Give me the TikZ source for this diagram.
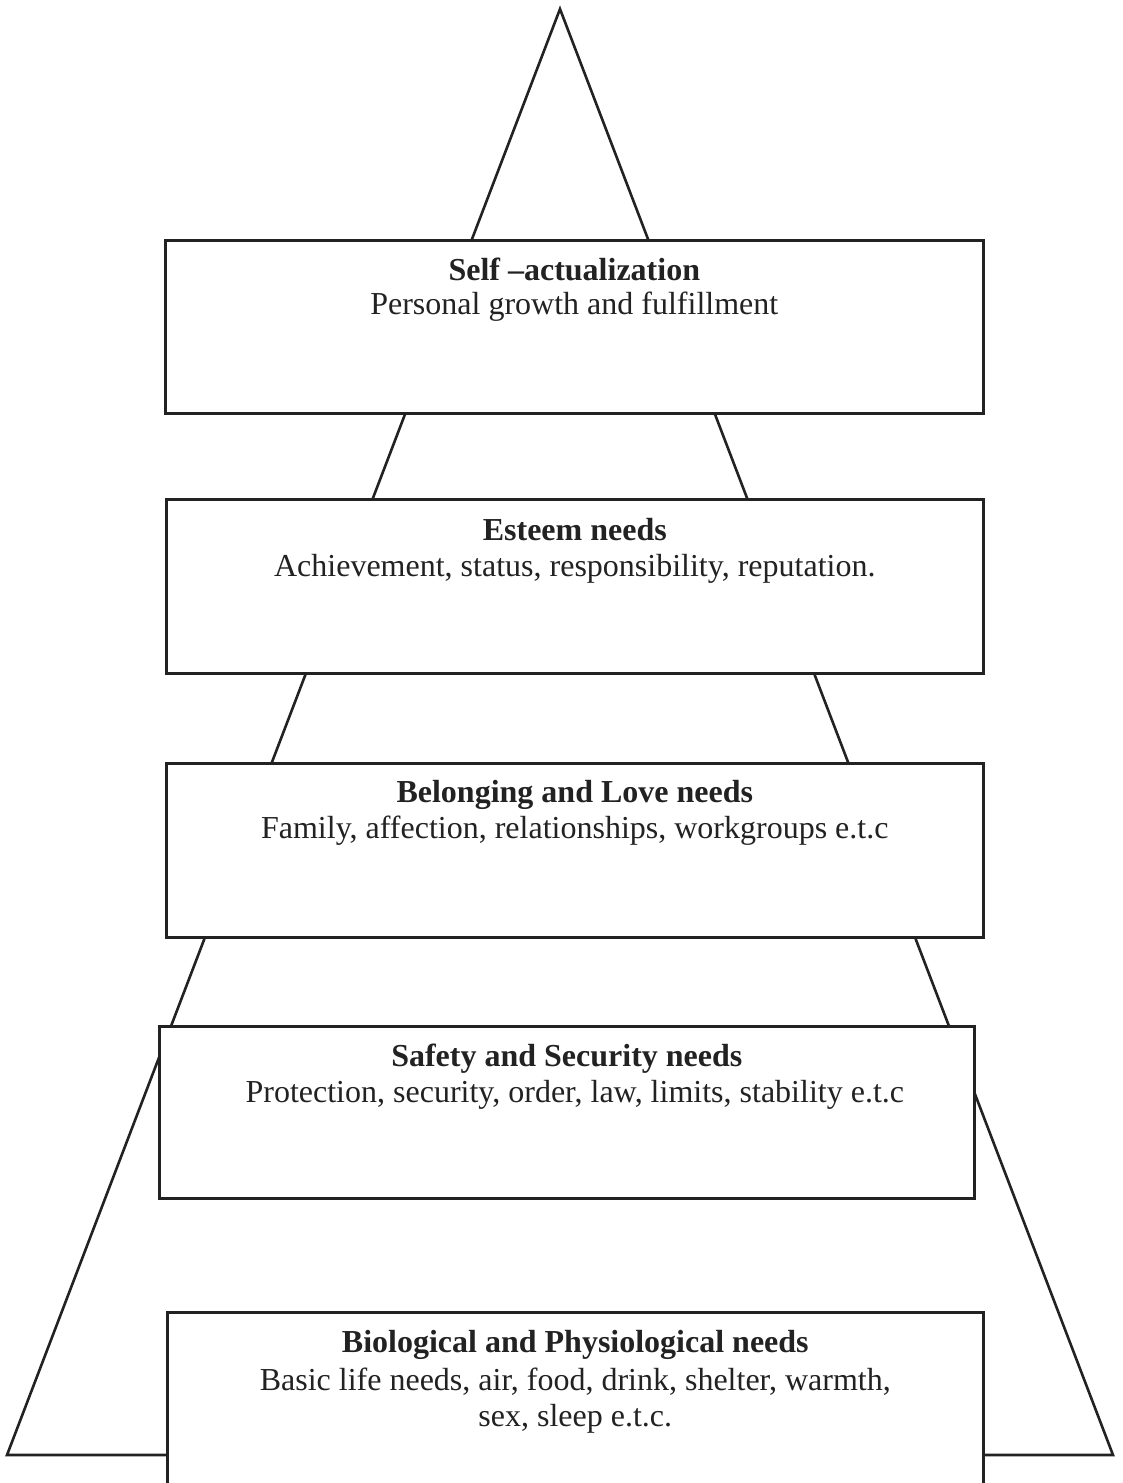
\documentclass[tikz,border=0pt]{standalone}
\usepackage{fontspec}
\setmainfont{Liberation Serif}
\definecolor{ink}{HTML}{222222}
\begin{document}
\begin{tikzpicture}[x=1pt, y=-1pt, line width=2.6pt, color=ink,
  level/.style={draw, fill=white, anchor=north west, inner sep=0pt},
  heading/.style={anchor=base, inner sep=0pt, font=\fontsize{32}{36}\selectfont\bfseries},
  detail/.style={anchor=base, inner sep=0pt, align=center, font=\fontsize{32}{36}\selectfont}]
\clip (0, 0) rectangle (1123, 1483);
\fill[white] (0, 0) rectangle (1123, 1483);
% pyramid outline behind the boxes
\path (560, 9) coordinate (apex);
\path (1113, 1455) coordinate (baseright);
\path (7, 1455) coordinate (baseleft);
\draw[line join=miter] (apex) -- (baseright) -- (baseleft) -- cycle;
% levels, top to bottom
\path (164, 239) node[level, minimum width=818pt, minimum height=173pt] (selfbox) {};
\path ([yshift=-41pt]selfbox.north) node[heading] (selfhead) {Self –actualization};
\path ([yshift=-75pt]selfbox.north) node[detail] (selftext) {Personal growth and fulfillment};
\path (165, 498) node[level, minimum width=817pt, minimum height=174pt] (esteembox) {};
\path ([yshift=-42pt]esteembox.north) node[heading] (esteemhead) {Esteem needs};
\path ([yshift=-78pt]esteembox.north) node[detail] (esteemtext) {Achievement, status, responsibility, reputation.};
\path (165, 762) node[level, minimum width=817pt, minimum height=174pt] (lovebox) {};
\path ([yshift=-40pt]lovebox.north) node[heading] (lovehead) {Belonging and Love needs};
\path ([yshift=-76pt]lovebox.north) node[detail] (lovetext) {Family, affection, relationships, workgroups e.t.c};
\path (158, 1025) node[level, minimum width=815pt, minimum height=172pt] (safetybox) {};
\path ([yshift=-41pt]safetybox.north) node[heading] (safetyhead) {Safety and Security needs};
\path ([yshift=-77pt, xshift=8pt]safetybox.north) node[detail] (safetytext) {Protection, security, order, law, limits, stability e.t.c};
\path (166, 1311) node[level, minimum width=816pt, minimum height=220pt] (biobox) {};
\path ([yshift=-41pt]biobox.north) node[heading] (biohead) {Biological and Physiological needs};
% base anchor of a two-line node sits on its last line
\path ([yshift=-115pt]biobox.north) node[detail] (biotext) {Basic life needs, air, food, drink, shelter, warmth,\\ sex, sleep e.t.c.};
\end{tikzpicture}
\end{document}
